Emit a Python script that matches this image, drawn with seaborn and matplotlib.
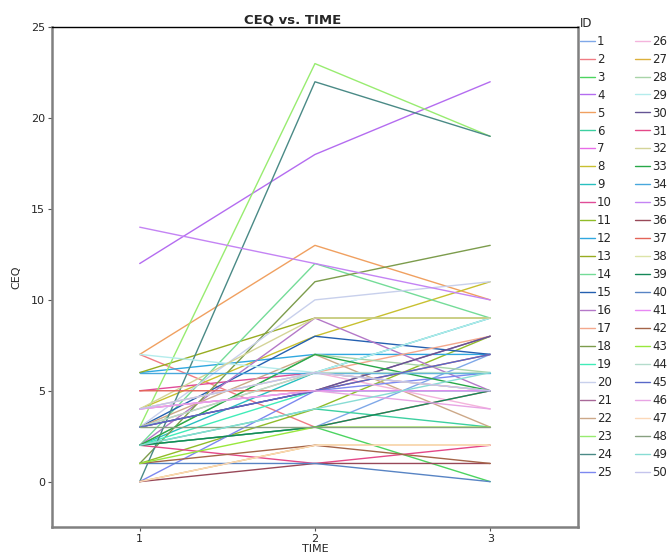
import matplotlib
matplotlib.use("Agg")
import matplotlib.pyplot as plt
import seaborn as sns
import pandas as pd

ids = list(range(1, 51))
times = [1, 2, 3]
ceq_t1 = [2, 7, 2, 12, 7, 2, 4, 4, 2, 5, 1, 6, 6, 2, 3, 2, 3, 1, 2, 3, 3, 3, 3, 0, 0,
          4, 0, 2, 7, 3, 2, 4, 2, 6, 14, 0, 5, 4, 2, 1, 4, 1, 1, 3, 3, 4, 0, 3, 2, 4]
ceq_t2 = [3, 3, 3, 18, 13, 4, 5, 8, 6, 6, 4, 7, 9, 12, 8, 9, 6, 11, 5, 10, 5, 7, 23, 22, 5,
          6, 2, 7, 6, 5, 1, 9, 7, 6, 12, 1, 5, 6, 3, 1, 5, 2, 3, 6, 5, 5, 2, 3, 4, 6]
ceq_t3 = [7, 5, 0, 22, 10, 3, 5, 11, 9, 5, 8, 7, 9, 9, 7, 5, 8, 13, 5, 11, 8, 3, 19, 19, 6,
          4, 2, 6, 9, 8, 2, 9, 5, 6, 10, 1, 7, 5, 5, 0, 5, 1, 3, 6, 7, 4, 2, 3, 6, 5]
colors = ["#7fa8e8", "#f07c84", "#4cd460", "#b46cf0", "#f0a060", "#3cd0a0", "#e86ce8",
          "#c8c030", "#28c0c0", "#e04c98", "#90bc28", "#30a8e0", "#98ac20", "#74dc98",
          "#2460b0", "#b478c8", "#f4a88c", "#7c9c4c", "#40ecb8", "#c8d0ec", "#a86898",
          "#cca888", "#98ec70", "#4a8a86", "#7c88f0", "#f4b4dc", "#dcb03c", "#a8d4a8",
          "#b4ecec", "#645494", "#e44888", "#d4d498", "#28a848", "#48a8dc", "#c484f4",
          "#984858", "#e46458", "#dce4a8", "#148858", "#5884c4", "#e888f4", "#a46448",
          "#98e83c", "#b4dccc", "#5868c8", "#e8a4e4", "#fcd8b8", "#88a080", "#88dcd4",
          "#c4c4ec"]

rows = []
for i, a, b, c in zip(ids, ceq_t1, ceq_t2, ceq_t3):
    for t, v in zip(times, [a, b, c]):
        rows.append({"ID": str(i), "TIME": t, "CEQ": v})
df = pd.DataFrame(rows)
hue_order = [str(i) for i in ids]
palette = dict(zip(hue_order, colors))

sns.set_style("white")
fig = plt.figure(figsize=(6.68, 5.56), dpi=100)
ax = fig.add_axes([0.078, 0.052, 0.787, 0.899])
sns.lineplot(data=df, x="TIME", y="CEQ", hue="ID", hue_order=hue_order,
             palette=palette, estimator=None, linewidth=1.0, ax=ax, legend=True)

ax.set_xlim(0.5, 3.5)
ax.set_ylim(-2.5, 25)
ax.set_xticks(times)
ax.set_yticks([0, 5, 10, 15, 20, 25])
ax.tick_params(axis="both", labelsize=8, length=3, pad=2, direction="out",
               bottom=True, left=True, color="#555555")
ax.set_xlabel("TIME", fontsize=8, labelpad=0)
ax.set_ylabel("CEQ", fontsize=8, labelpad=7)
ax.set_title("CEQ vs. TIME", fontsize=9.5, fontweight="bold", pad=3, x=0.458)

for s in ["left", "right", "bottom"]:
    ax.spines[s].set_color("#808080")
    ax.spines[s].set_linewidth(1.8)
ax.spines["top"].set_color("black")
ax.spines["top"].set_linewidth(1.0)

handles, labels = ax.get_legend_handles_labels()
leg = ax.legend(handles, labels, title="ID", ncol=2, loc="upper left",
                bbox_to_anchor=(0.997, 1.028), frameon=False, fontsize=8.5,
                title_fontsize=8.5, handlelength=1.25, handletextpad=0.2,
                columnspacing=1.95, labelspacing=0.42, borderaxespad=0.2,
                borderpad=0.1)
leg._legend_box.align = "left"

fig.savefig("out.png", dpi=100)
